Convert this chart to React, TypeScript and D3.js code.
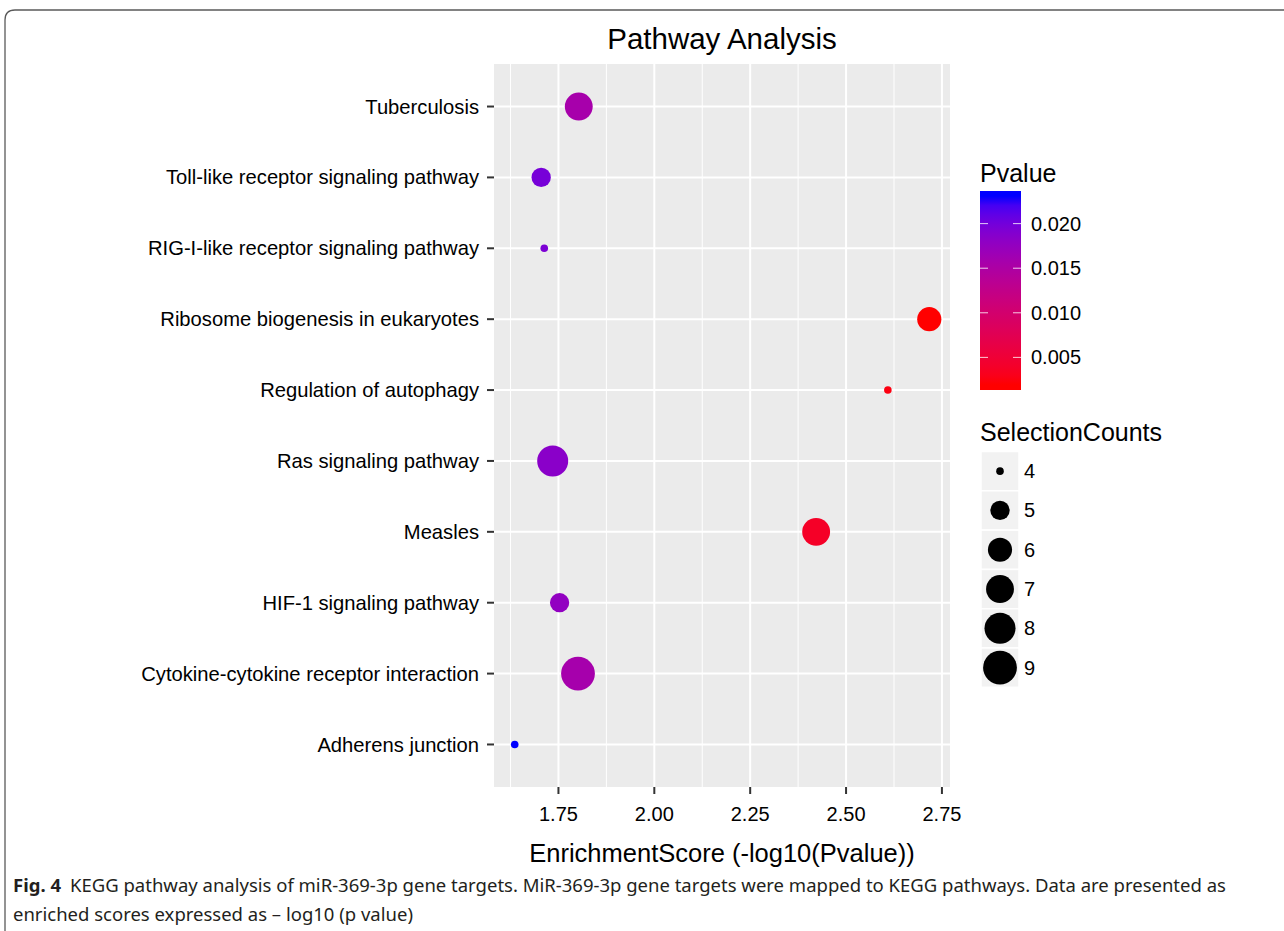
import * as d3 from "d3";

// pathways, top to bottom as they appear on the y axis
const pathways = [
  "Tuberculosis",
  "Toll-like receptor signaling pathway",
  "RIG-I-like receptor signaling pathway",
  "Ribosome biogenesis in eukaryotes",
  "Regulation of autophagy",
  "Ras signaling pathway",
  "Measles",
  "HIF-1 signaling pathway",
  "Cytokine-cytokine receptor interaction",
  "Adherens junction",
];
const enrichmentScores = [1.803, 1.705, 1.713, 2.717, 2.609, 1.735, 2.422, 1.753, 1.801, 1.636];
const pValues = [0.0157, 0.0197, 0.0194, 0.0019, 0.0025, 0.0184, 0.0038, 0.0177, 0.0158, 0.0231];
const selectionCounts = [7, 5, 4, 6, 4, 8, 7, 5, 9, 4];

const xTicks = [1.75, 2.0, 2.25, 2.5, 2.75];
const pTicks = [0.005, 0.01, 0.015, 0.02];
const countBreaks = [4, 5, 6, 7, 8, 9];

const W = 1284;
const H = 931;
const panel = { left: 494, right: 950, top: 64, bottom: 787 };
const font = "'Liberation Sans', Arial, Helvetica, sans-serif";
const captionFont = "'Noto Sans', 'Open Sans', sans-serif";

export default function App() {
  const rows = pathways.map((name, i) => ({
    name,
    score: enrichmentScores[i],
    p: pValues[i],
    count: selectionCounts[i],
  }));

  // ggplot-like 5% expansion
  const [sMin, sMax] = d3.extent(enrichmentScores) as [number, number];
  const pad = (sMax - sMin) * 0.05;
  const x = d3.scaleLinear().domain([sMin - pad, sMax + pad]).range([panel.left, panel.right]);
  const y = d3.scalePoint<string>().domain(pathways).range([panel.top, panel.bottom]).padding(0.6);

  const pExtent = d3.extent(pValues) as [number, number];
  const color = d3
    .scaleLinear<string>()
    .domain(pExtent)
    .range(["#FF0000", "#0000FF"])
    .interpolate(d3.interpolateLab);

  // area_pal style: radius grows with sqrt of rescaled count
  const sizeNorm = d3.scaleLinear().domain(d3.extent(selectionCounts) as [number, number]).range([0, 1]);
  const radius = d3.scaleLinear().domain([0, 1]).range([3.8, 16.9]);
  const r = (c: number) => radius(Math.sqrt(sizeNorm(c)));

  const minorTicks = d3.pairs(xTicks).map(([a, b]) => (a + b) / 2);
  const firstMinor = xTicks[0] - (xTicks[1] - xTicks[0]) / 2;
  if (firstMinor > x.domain()[0]) minorTicks.unshift(firstMinor);

  // colourbar
  const bar = { x: 980, w: 41, top: 191, bottom: 390 };
  const halfBin = (bar.bottom - bar.top) / 40;
  const cbY = d3.scaleLinear().domain(pExtent).range([bar.bottom - halfBin, bar.top + halfBin]);
  const gradStops = d3
    .range(0, 21)
    .map((i) => {
      const v = pExtent[0] + ((pExtent[1] - pExtent[0]) * i) / 20;
      return { off: (cbY(v) - bar.top) / (bar.bottom - bar.top), c: color(v) };
    })
    .sort((a, b) => a.off - b.off);

  // size legend
  const key = { x: 981, w: 38, top: 451.5, h: 39.3 };

  return (
    <svg width={W} height={H} style={{ position: "absolute", left: 0, top: 0, background: "#fff" }} fontFamily={font}>
      <defs>
        <linearGradient id="pgrad" x1="0" y1="0" x2="0" y2="1">
          {gradStops.map((s, i) => (
            <stop key={i} offset={s.off} stopColor={s.c} />
          ))}
        </linearGradient>
      </defs>

      {/* figure frame */}
      <path d={`M5,${H + 2} L5,20 Q5,10 15,10 L${W + 2},10`} fill="none" stroke="#5a5a5a" strokeWidth={1.3} />

      <text x={(panel.left + panel.right) / 2} y={48.5} textAnchor="middle" fontSize={29.5} fill="#000">
        Pathway Analysis
      </text>

      {/* panel */}
      <rect x={panel.left} y={panel.top} width={panel.right - panel.left} height={panel.bottom - panel.top} fill="#EBEBEB" />
      {minorTicks.map((t) => (
        <line key={"m" + t} x1={x(t)} x2={x(t)} y1={panel.top} y2={panel.bottom} stroke="#fff" strokeWidth={1} />
      ))}
      {xTicks.map((t) => (
        <line key={"gx" + t} x1={x(t)} x2={x(t)} y1={panel.top} y2={panel.bottom} stroke="#fff" strokeWidth={2} />
      ))}
      {pathways.map((p) => (
        <line key={"gy" + p} x1={panel.left} x2={panel.right} y1={y(p)} y2={y(p)} stroke="#fff" strokeWidth={2} />
      ))}

      {rows.map((d) => (
        <circle key={d.name} cx={x(d.score)} cy={y(d.name)} r={r(d.count)} fill={color(d.p)} />
      ))}

      {/* y axis */}
      {pathways.map((p) => (
        <g key={"yl" + p}>
          <line x1={panel.left - 7} x2={panel.left} y1={y(p)} y2={y(p)} stroke="#333" strokeWidth={2} />
          <text x={panel.left - 15} y={y(p)} dy="0.35em" textAnchor="end" fontSize={20.2} fill="#000">
            {p}
          </text>
        </g>
      ))}

      {/* x axis */}
      {xTicks.map((t) => (
        <g key={"xl" + t}>
          <line x1={x(t)} x2={x(t)} y1={panel.bottom} y2={panel.bottom + 7} stroke="#333" strokeWidth={2} />
          <text x={x(t)} y={821} textAnchor="middle" fontSize={20} fill="#000">
            {d3.format(".2f")(t)}
          </text>
        </g>
      ))}
      <text x={(panel.left + panel.right) / 2} y={862} textAnchor="middle" fontSize={25.5} fill="#000">
        EnrichmentScore (-log10(Pvalue))
      </text>

      {/* colour legend */}
      <text x={980} y={182} fontSize={25} fill="#000">Pvalue</text>
      <rect x={bar.x} y={bar.top} width={bar.w} height={bar.bottom - bar.top} fill="url(#pgrad)" />
      {pTicks.map((t) => (
        <g key={"pt" + t}>
          <line x1={bar.x} x2={bar.x + 8} y1={cbY(t)} y2={cbY(t)} stroke="#fff" strokeOpacity={0.8} strokeWidth={1} />
          <line x1={bar.x + bar.w - 8} x2={bar.x + bar.w} y1={cbY(t)} y2={cbY(t)} stroke="#fff" strokeOpacity={0.8} strokeWidth={1} />
          <text x={1031} y={cbY(t)} dy="0.35em" fontSize={20} fill="#000">
            {d3.format(".3f")(t)}
          </text>
        </g>
      ))}

      {/* size legend */}
      <text x={980} y={441} fontSize={25} fill="#000">SelectionCounts</text>
      {countBreaks.map((c, i) => {
        const cy = key.top + key.h * i + key.h / 2;
        return (
          <g key={"sc" + c}>
            <rect x={key.x} y={key.top + key.h * i} width={key.w} height={key.h} fill="#F2F2F2" stroke="#fff" strokeWidth={1.5} />
            <circle cx={key.x + key.w / 2} cy={cy} r={r(c)} fill="#000" />
            <text x={1024} y={cy} dy="0.35em" fontSize={20} fill="#000">
              {c}
            </text>
          </g>
        );
      })}

      {/* caption */}
      <text x={13} y={892} fontFamily={captionFont} fontSize={18.5} fill="#231F20">
        <tspan fontWeight="bold">Fig. 4</tspan>
        <tspan dx={9}>
          KEGG pathway analysis of miR-369-3p gene targets. MiR-369-3p gene targets were mapped to KEGG pathways. Data are presented as
        </tspan>
      </text>
      <text x={13} y={921} fontFamily={captionFont} fontSize={18.5} fill="#231F20">
        enriched scores expressed as – log10 (p value)
      </text>
    </svg>
  );
}
